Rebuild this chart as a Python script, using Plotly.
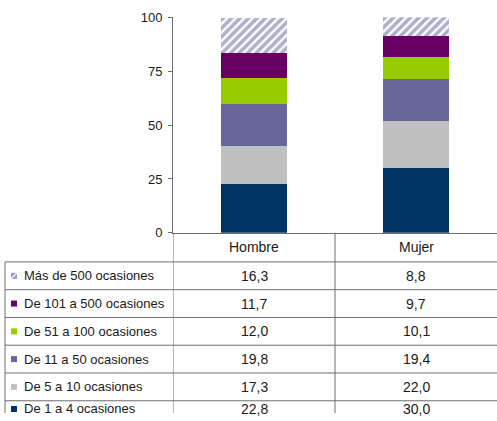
import plotly.graph_objects as go

# ---- data ----
categories = ["Hombre", "Mujer"]
series_names = ["De 1 a 4 ocasiones", "De 5 a 10 ocasiones", "De 11 a 50 ocasiones",
                "De 51 a 100 ocasiones", "De 101 a 500 ocasiones", "Más de 500 ocasiones"]
val_1_4 = [22.8, 30.0]
val_5_10 = [17.3, 22.0]
val_11_50 = [19.8, 19.4]
val_51_100 = [12.0, 10.1]
val_101_500 = [11.7, 9.7]
val_500_plus = [16.3, 8.8]
series_values = [val_1_4, val_5_10, val_11_50, val_51_100, val_101_500, val_500_plus]
y_ticks = [0, 25, 50, 75, 100]

# ---- styles ----
colors = ["#003366", "#C0C0C0", "#666699", "#99CC00", "#660066", None]
HATCH = "#5f5f96"
W, H = 497, 421
FONT = "Liberation Sans, Arial, sans-serif"
TXT = "#1a1a1a"
LINE = "#6e6e6e"

# layout helpers (pixel positions -> paper fractions)
VIEW_TOP, VIEW_H = 8.0, 405.0


def px(x):
    return x / W


def py(y):
    return 1 - (y - VIEW_TOP) / VIEW_H


plot_left, plot_top, plot_bottom = 173, 18.3, 233.3
table_top, row_h, table_left = 262.3, 27.7, 5

fig = go.Figure()
for name, vals, col in zip(series_names, series_values, colors):
    if col is None:
        marker = dict(color="white", line=dict(width=0),
                      pattern=dict(shape="/", fgcolor=HATCH, bgcolor="white",
                                   size=6, solidity=0.6, fillmode="overlay"))
    else:
        marker = dict(color=col, line=dict(width=0))
    fig.add_trace(go.Bar(x=categories, y=vals, name=name, marker=marker,
                         showlegend=False, hoverinfo="skip"))

shapes = []
annotations = []

for xv in [-0.5, 0.5]:
    shapes.append(dict(type="line", xref="x", yref="paper", x0=xv, x1=xv,
                       y0=0, y1=py(plot_bottom), line=dict(color=LINE, width=1)))

for c in categories:
    annotations.append(dict(x=c, xref="x", y=py((plot_bottom + table_top) / 2), yref="paper",
                            text=c, showarrow=False, xanchor="center", yanchor="middle",
                            font=dict(family=FONT, size=14, color=TXT)))

rows = list(range(len(series_names)))[::-1]
shapes.append(dict(type="line", xref="paper", yref="paper", x0=px(table_left), x1=px(table_left),
                   y0=0, y1=py(table_top), line=dict(color=LINE, width=1)))
for i, si in enumerate(rows):
    ytop = table_top + i * row_h
    shapes.append(dict(type="line", xref="paper", yref="paper", x0=px(table_left), x1=1,
                       y0=py(ytop), y1=py(ytop), line=dict(color=LINE, width=1)))
    yc = min(ytop + row_h / 2, 409)
    kx0, kx1 = 11, 17
    ky0, ky1 = yc - 3, yc + 3
    if colors[si] is None:
        shapes.append(dict(type="rect", xref="paper", yref="paper", x0=px(kx0), x1=px(kx1),
                           y0=py(ky1), y1=py(ky0), fillcolor="#9a9ac4", line=dict(width=0)))
        shapes.append(dict(type="line", xref="paper", yref="paper", x0=px(kx0), x1=px(kx1),
                           y0=py(ky1), y1=py(ky0), line=dict(color="#eeeef6", width=1.5)))
    else:
        shapes.append(dict(type="rect", xref="paper", yref="paper", x0=px(kx0), x1=px(kx1),
                           y0=py(ky1), y1=py(ky0), fillcolor=colors[si], line=dict(width=0)))
    annotations.append(dict(x=px(22), xref="paper", y=py(yc), yref="paper",
                            text=series_names[si], showarrow=False, xanchor="left", yanchor="middle",
                            font=dict(family=FONT, size=13, color=TXT)))
    for ci, c in enumerate(categories):
        annotations.append(dict(x=c, xref="x", y=py(yc), yref="paper",
                                text=f"{series_values[si][ci]:.1f}".replace(".", ","),
                                showarrow=False, xanchor="center", yanchor="middle",
                                font=dict(family=FONT, size=14, color=TXT)))

fig.update_layout(
    width=W, height=H, autosize=False, barmode="stack", bargap=0.59,
    margin=dict(l=0, r=0, t=0, b=0),
    paper_bgcolor="white", plot_bgcolor="white",
    shapes=shapes, annotations=annotations,
    xaxis=dict(domain=[px(plot_left), 1], type="category", range=[-0.5, 1.5],
               showticklabels=False, ticks="", showline=True, linecolor=LINE, linewidth=1,
               showgrid=False, zeroline=False, fixedrange=True),
    yaxis=dict(domain=[py(plot_bottom), py(plot_top)], range=[0, 100], tickvals=y_ticks,
               ticks="outside", ticklen=4, tickcolor=LINE, showline=True, linecolor=LINE,
               linewidth=1, showgrid=False, zeroline=False, ticklabelstandoff=3,
               tickfont=dict(family=FONT, size=13, color=TXT), fixedrange=True),
)

post = ("document.documentElement.style.margin='0';document.documentElement.style.padding='0';"
        "document.documentElement.style.overflow='hidden';"
        "document.body.style.margin='0';document.body.style.padding='0';"
        "document.body.style.overflow='hidden';")
fig.write_html("out.html", config={"displayModeBar": False, "responsive": False}, post_script=post)
